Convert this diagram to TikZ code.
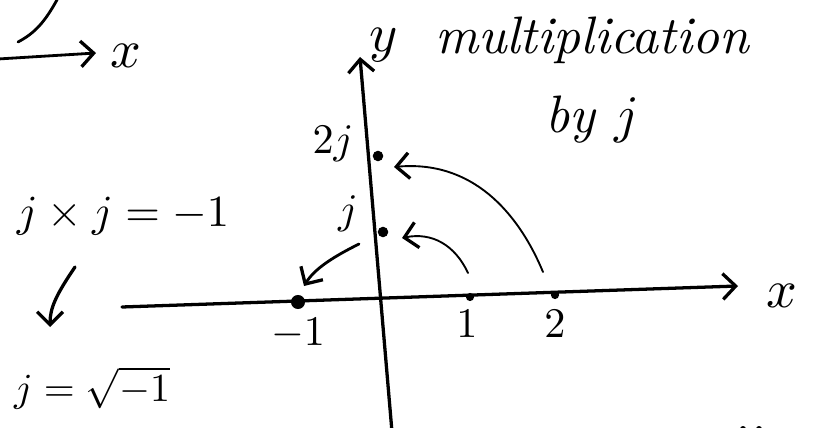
\documentclass[tikz,border=0pt]{standalone}
\usetikzlibrary{arrows.meta}
\begin{document}
\begin{tikzpicture}[x=0.03cm,y=-0.03cm,line cap=round,line join=round,
  barb/.style={-{Straight Barb[length=11pt,width=22pt,line width=2.8pt]}},
  axis/.style={line width=2.8pt,barb},
  turn/.style={line width=1.6pt,barb},
  tick/.style={circle,fill,inner sep=0pt,minimum size=#1},
  big/.style={scale=4.6},
  mid/.style={scale=3.8},
  small/.style={scale=3.6}]
\useasboundingbox (0,0) rectangle (839,428);

\coordinate (arcA) at (58,-2);
\coordinate (arcB) at (18,42);
\draw[line width=2.4pt] (arcA) .. controls (45,22) and (35,33) .. (arcB);
\coordinate (oldL) at (-2,59);
\coordinate (oldR) at (96,53);
\draw[line width=2.4pt,barb] (oldL) -- (oldR);
\node[big] (oldx) at (126,56) {$x$};

\coordinate (xl) at (122,307);
\coordinate (xr) at (738,286);
\coordinate (yb) at (392,432);
\coordinate (yt) at (360,57);
\draw[axis] (xl) -- (xr);
\draw[axis] (yb) -- (yt);
\node[big] (xlab) at (782,296) {$x$};
\node[big] (ylab) at (384,45) {$y$};

\node[tick=12pt] (m1) at (298,302) {};
\node[tick=7pt] (p1) at (470,297) {};
\node[tick=7pt] (p2) at (555,295) {};
\node[tick=9pt] (j1) at (383,232) {};
\node[tick=9pt] (j2) at (378,156) {};

\node[small] (m1lab) at (298,334) {$-1$};
\node[small] (p1lab) at (467,324) {$1$};
\node[small] (p2lab) at (555,324) {$2$};
\node[small] (j1lab) at (348,214) {$j$};
\node[small] (j2lab) at (333,144) {$2j$};

\coordinate (s1) at (468,273);
\coordinate (t1) at (402,238);
\draw[turn] (s1) .. controls (455,245) and (432,232) .. (t1);
\coordinate (s2) at (543,272);
\coordinate (t2) at (394,167);
\draw[turn] (s2) .. controls (518,212) and (472,160) .. (t2);
\coordinate (s3) at (359,244);
\coordinate (t3) at (304,286);
\draw[line width=2.4pt,barb] (s3) .. controls (335,256) and (315,268) .. (t3);

\node[scale=4.5,font=\itshape,align=center] (mult) at (592,80)
  {multiplication\\[3pt]by $j$};

\node[mid] (eq1) at (123,216) {$j\times j=-1$};
\coordinate (dA) at (75,267);
\coordinate (dB) at (50,327);
\draw[line width=2.8pt,barb] (dA) .. controls (56,295) and (50,308) .. (dB);
\node[scale=3.4] (eq2) at (92,388) {$j=\sqrt{-1}$};

\fill (743,429) circle (3) (759,429) circle (3);
\end{tikzpicture}
\end{document}
